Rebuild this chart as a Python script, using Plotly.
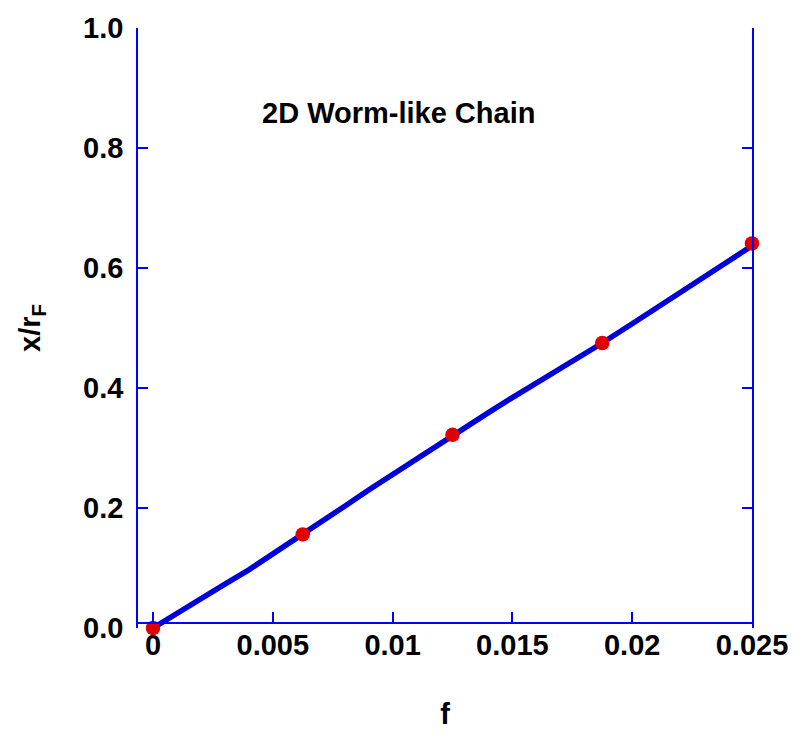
import plotly.graph_objects as go

# Curve
curve_f = [0, 0.001, 0.002, 0.003, 0.004, 0.005, 0.006, 0.00625, 0.007, 0.008, 0.009, 0.01,
           0.011, 0.012, 0.0125, 0.013, 0.014, 0.015, 0.016, 0.017, 0.018, 0.01875, 0.02,
           0.021, 0.022, 0.023, 0.024, 0.025]
curve_x = [0, 0.025, 0.049, 0.073, 0.097, 0.123, 0.149, 0.156, 0.176, 0.203, 0.230, 0.256,
           0.282, 0.309, 0.322, 0.335, 0.359, 0.384, 0.408, 0.432, 0.456, 0.475, 0.507,
           0.533, 0.559, 0.585, 0.611, 0.637]

# Data points
pts_f = [0, 0.00625, 0.0125, 0.01875, 0.025]
pts_x = [0, 0.156, 0.322, 0.475, 0.641]

x_tickvals = [0, 0.005, 0.01, 0.015, 0.02, 0.025]
x_ticktext = ["0", "0.005", "0.01", "0.015", "0.02", "0.025"]
y_tickvals = [0, 0.2, 0.4, 0.6, 0.8, 1.0]
y_ticktext = ["0.0", "0.2", "0.4", "0.6", "0.8", "1.0"]

FRAME = "rgb(0,0,255)"
FONT = dict(family="Liberation Sans, Arial, sans-serif", size=29, color="black", weight="bold")

fig = go.Figure()
fig.add_trace(go.Scatter(x=curve_f, y=curve_x, mode="lines",
                         line=dict(color="rgb(0,0,215)", width=5.5),
                         showlegend=False, hoverinfo="skip"))
fig.add_trace(go.Scatter(x=pts_f, y=pts_x, mode="markers",
                         marker=dict(color="rgb(225,0,0)", size=14.5),
                         cliponaxis=False, showlegend=False))

fig.update_layout(
    width=789, height=733,
    margin=dict(l=130, r=45, t=20, b=113, autoexpand=False),
    paper_bgcolor="white", plot_bgcolor="white",
    font=FONT,
    xaxis=dict(range=[-0.000626, 0.025], tickvals=x_tickvals, ticktext=x_ticktext,
               ticks="inside", ticklen=10, tickwidth=1.5, tickcolor=FRAME,
               showline=True, linecolor=FRAME, linewidth=1.5, mirror="ticks",
               showgrid=False, zeroline=False, automargin=False,
               anchor="free", position=5/600,
               tickfont=FONT, ticklabelstandoff=-4,
               title=dict(text="f", font=FONT, standoff=43)),
    yaxis=dict(range=[0, 1], tickvals=y_tickvals, ticktext=y_ticktext,
               ticks="inside", ticklen=10, tickwidth=1.5, tickcolor=FRAME,
               showline=True, linecolor=FRAME, linewidth=1.5, mirror="ticks",
               showgrid=False, zeroline=False, automargin=False,
               tickfont=FONT, ticklabelstandoff=7,
               title=dict(text="x/r<sub>F</sub>", font=FONT, standoff=34)),
    annotations=[dict(text="2D Worm-like Chain", x=0.4235, y=0.858, xref="paper", yref="paper",
                      showarrow=False, font=FONT, xanchor="center", yanchor="middle")],
)

fig.write_html("out.html")
